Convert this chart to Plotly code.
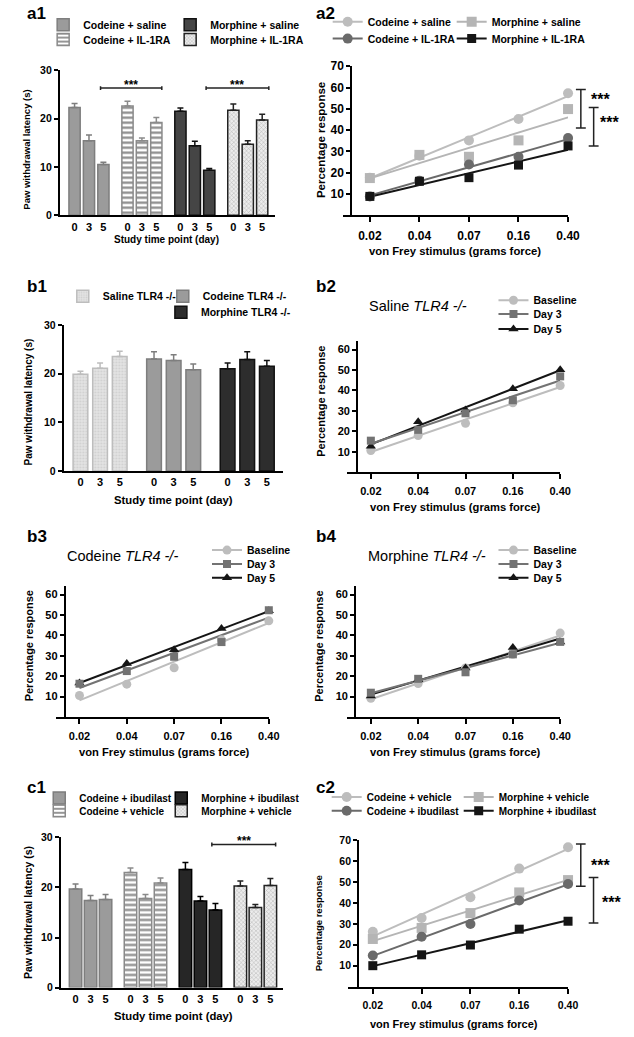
import numpy as np
import plotly.graph_objects as go

# %% values

days = ["0", "3", "5"]
vf_force = ["0.02", "0.04", "0.07", "0.16", "0.40"]

# a1 - paw withdrawal latency (s), mean and SEM at day 0 / 3 / 5
a1_cod_sal = [22.3, 15.4, 10.5]
a1_cod_sal_err = [0.8, 1.2, 0.5]
a1_cod_il = [22.6, 15.4, 19.2]
a1_cod_il_err = [1.0, 0.6, 1.0]
a1_mor_sal = [21.5, 14.4, 9.3]
a1_mor_sal_err = [0.7, 0.9, 0.4]
a1_mor_il = [21.7, 14.7, 19.7]
a1_mor_il_err = [1.3, 0.7, 1.2]

# a2 - percentage response per von Frey filament
a2_cod_sal = [17.7, 28.0, 35.2, 45.2, 57.3]
a2_mor_sal = [17.5, 28.4, 27.5, 35.2, 49.9]
a2_cod_il = [8.9, 16.3, 23.9, 27.5, 36.3]
a2_mor_il = [8.9, 16.0, 17.7, 23.6, 32.6]

# b1 - TLR4 -/- latency
b1_sal = [19.9, 21.1, 23.5]
b1_sal_err = [0.6, 1.1, 1.1]
b1_cod = [23.0, 22.7, 20.8]
b1_cod_err = [1.5, 1.2, 1.2]
b1_mor = [21.0, 22.9, 21.5]
b1_mor_err = [1.2, 1.6, 1.2]

# b2-b4 - baseline / day 3 / day 5
b2_base = [10.6, 17.9, 23.9, 34.0, 42.4]
b2_day3 = [15.4, 20.7, 28.8, 35.2, 46.9]
b2_day5 = [12.7, 24.7, 30.4, 40.8, 50.1]
b3_base = [10.5, 16.1, 24.1, 37.8, 47.1]
b3_day3 = [16.3, 22.5, 29.5, 36.7, 52.3]
b3_day5 = [16.6, 26.2, 33.0, 43.4, 52.0]
b4_base = [9.2, 16.4, 24.0, 30.7, 41.1]
b4_day3 = [11.9, 18.7, 21.9, 30.7, 36.8]
b4_day5 = [10.3, 18.3, 24.0, 34.1, 36.8]

# c1 - ibudilast latency
c1_cod_ibu = [19.7, 17.4, 17.6]
c1_cod_ibu_err = [1.0, 1.0, 1.0]
c1_cod_veh = [23.0, 17.8, 20.9]
c1_cod_veh_err = [0.9, 0.8, 1.0]
c1_mor_ibu = [23.6, 17.3, 15.5]
c1_mor_ibu_err = [1.4, 0.9, 1.3]
c1_mor_veh = [20.3, 16.0, 20.4]
c1_mor_veh_err = [1.0, 0.6, 1.4]

# c2 - percentage response
c2_cod_veh = [26.2, 32.8, 42.8, 56.5, 66.7]
c2_cod_ibu = [14.9, 23.9, 30.0, 41.2, 49.1]
c2_mor_veh = [22.8, 28.1, 35.2, 45.1, 51.0]
c2_mor_ibu = [10.0, 15.2, 19.9, 27.5, 31.3]

# significance markers
a1_sig = [(1.8, 6.05, 26.3), (9.12, 13.47, 26.3)]     # bar slots from/to, y
c1_sig = [(9.08, 13.33, 28.6)]
# x of bracket (axis domain), y from / to, x and y of the stars
a2_sig = [(1.057, 41.0, 59.1, 1.092, 55.3), (1.114, 32.6, 50.6, 1.135, 44.5)]
c2_sig = [(1.058, 48.0, 68.3, 1.094, 58.8), (1.116, 30.5, 52.2, 1.147, 41.0)]

# %% layout helpers

W, H = 634, 1037
FONT = "Liberation Sans, Arial, Helvetica, sans-serif"


def fx(p):
    return p / W


def fy(p):
    return 1 - p / H


def ax_ids(n):
    s = "" if n == 1 else str(n)
    return "xaxis" + s, "yaxis" + s, "x" + s, "y" + s


def tickfont(size):
    return dict(family=FONT, size=size, color="black", weight="bold")


fig = go.Figure()
layout = dict(width=W, height=H, margin=dict(l=0, r=0, t=0, b=0),
              paper_bgcolor="white", plot_bgcolor="white", showlegend=True,
              font=dict(family=FONT, color="black"), annotations=[], shapes=[])

line_ax = dict(showline=True, linewidth=2, linecolor="black", showgrid=False,
               zeroline=False, tickcolor="black", tickwidth=2)


def bar_panel(n, left, right, top, bottom, first, step, pitch, ngroups, fs=11):
    xk, yk, xr, yr = ax_ids(n)
    slots = [g * pitch + j for g in range(ngroups) for j in range(3)]
    layout[xk] = dict(domain=[fx(left), fx(right)],
                      range=[(left - first) / step, (right - first) / step],
                      anchor=yr, tickvals=slots, ticktext=days * ngroups, ticks="",
                      tickfont=tickfont(fs + 0.5), **line_ax)
    layout[yk] = dict(domain=[fy(bottom), fy(top)], range=[0, 30], anchor=xr,
                      tickvals=[0, 10, 20, 30], ticks="outside", ticklen=4,
                      tickfont=tickfont(fs), **line_ax)


def line_panel(n, yline, t0, t4, xstart, zero, k, ymax, fs=11):
    xk, yk, xr, yr = ax_ids(n)
    step = (t4 - t0) / 4
    layout[xk] = dict(domain=[fx(xstart), fx(t4)], range=[(xstart - t0) / step, 4],
                      anchor=yr, tickvals=list(range(5)), ticktext=vf_force,
                      ticks="outside", ticklen=5, ticklabelstandoff=3,
                      tickfont=tickfont(fs), **line_ax)
    layout[yk] = dict(domain=[fy(zero), fy(zero - ymax * k)], range=[0, ymax],
                      anchor="free", position=fx(yline),
                      tickvals=list(range(10, ymax + 1, 10)), ticks="outside", ticklen=4,
                      tickfont=tickfont(fs), **line_ax)


legend_no = [0]


def new_legend(left, row, size=10.5):
    legend_no[0] += 1
    key = "legend" if legend_no[0] == 1 else f"legend{legend_no[0]}"
    layout[key] = dict(x=fx(left), y=fy(row), xanchor="left", yanchor="middle",
                       orientation="h", bgcolor="rgba(0,0,0,0)", borderwidth=0,
                       font=dict(family=FONT, size=size, color="black", weight="bold"))
    return key


def text(x, y, s, size=11, bold=True, **kw):
    kw.setdefault("xanchor", "center")
    kw.setdefault("yanchor", "middle")
    layout["annotations"].append(dict(
        x=fx(x), y=fy(y), xref="paper", yref="paper", text=s, showarrow=False,
        font=dict(family=FONT, size=size, color="black", weight="bold" if bold else "normal"), **kw))


def bars(n, g, vals, err, name, leg, color, edge, pitch, width, pattern=None, lw=None):
    _, _, xr, yr = ax_ids(n)
    marker = dict(color=color, line=dict(color=edge, width=1.5))
    if pattern:
        marker["pattern"] = pattern
    fig.add_trace(go.Bar(
        x=[g * pitch + j for j in range(len(vals))], y=vals, width=width, name=name,
        marker=marker, legend=leg, legendwidth=lw, xaxis=xr, yaxis=yr,
        error_y=dict(type="data", array=err, arrayminus=[0] * len(err), symmetric=False,
                     color=edge, thickness=1.5, width=3)))


def fit(vals):
    idx = np.arange(len(vals))
    slope, icpt = np.polyfit(idx, vals, 1)
    return [0, len(vals) - 1], [icpt, icpt + slope * (len(vals) - 1)]


def series(n, groups):
    # groups: (values, name, legend, colour, symbol, size, legend entry width)
    _, _, xr, yr = ax_ids(n)
    for vals, name, leg, col, sym, sz, lw in groups:
        lx, ly = fit(vals)
        fig.add_trace(go.Scatter(x=lx, y=ly, mode="lines", line=dict(color=col, width=2),
                                 showlegend=False, xaxis=xr, yaxis=yr))
    for vals, name, leg, col, sym, sz, lw in groups:
        fig.add_trace(go.Scatter(x=list(range(len(vals))), y=vals, mode="markers",
                                 marker=dict(color=col, symbol=sym, size=sz), cliponaxis=False,
                                 showlegend=False, xaxis=xr, yaxis=yr))
    for vals, name, leg, col, sym, sz, lw in groups:
        fig.add_trace(go.Scatter(x=[None], y=[None], mode="lines+markers", name=name, legend=leg,
                                 legendwidth=lw, line=dict(color=col, width=2),
                                 marker=dict(color=col, symbol=sym, size=sz), xaxis=xr, yaxis=yr))


def hbracket(n, x0, x1, y, cap, size=12):
    _, _, xr, yr = ax_ids(n)
    ln = dict(color="#222", width=1.5)
    layout["shapes"].append(dict(type="line", xref=xr, yref=yr, x0=x0, x1=x1, y0=y, y1=y, line=ln))
    for xe in (x0, x1):
        layout["shapes"].append(dict(type="line", xref=xr, yref=yr, x0=xe, x1=xe, y0=y - cap, y1=y + cap, line=ln))
    layout["annotations"].append(dict(x=(x0 + x1) / 2, y=y, xref=xr, yref=yr, text="***", showarrow=False,
                                      xanchor="center", yanchor="middle", yshift=3,
                                      font=dict(family=FONT, size=size, color="black", weight="bold")))


def vbracket(n, x, y0, y1, xstar, ystar, size=16):
    _, _, xr, yr = ax_ids(n)
    ln = dict(color="#222", width=1.5)
    xd = xr + " domain"
    layout["shapes"].append(dict(type="line", xref=xd, yref=yr, x0=x, x1=x, y0=y0, y1=y1, line=ln))
    for ye in (y0, y1):
        layout["shapes"].append(dict(type="line", xref=xd, yref=yr, x0=x - 0.022, x1=x + 0.022, y0=ye, y1=ye, line=ln))
    layout["annotations"].append(dict(x=xstar, y=ystar, xref=xd, yref=yr, text="***", showarrow=False,
                                      xanchor="left", yanchor="middle", yshift=-2,
                                      font=dict(family=FONT, size=size, color="black", weight="bold")))


# fills
MID, MID_EDGE = "#9b9b9b", "#7e7e7e"
DARK, DARK_EDGE = "#454545", "#111111"
BLACK = "#262626"
stripes = dict(shape="-", fgcolor="#8a8a8a", bgcolor="white", size=5, solidity=0.45, fillmode="replace")
hatch = dict(shape="x", fgcolor="#a5a5a5", bgcolor="#ececec", size=3, solidity=0.25, fillmode="replace")
dots = dict(shape=".", fgcolor="#cfcfcf", bgcolor="#e4e4e4", size=3, solidity=0.3, fillmode="replace")
LIGHT_C, LIGHT_S, GREY, BLK = "#bdbdbd", "#b5b5b5", "#6a6a6a", "#151515"

# %% a1
bar_panel(1, 61, 280, 64, 211, 76, 14.7, 3.67, 4, fs=10.5)
la, lb = new_legend(44, 18), new_legend(44, 33)
bars(1, 0, a1_cod_sal, a1_cod_sal_err, "Codeine + saline", la, MID, MID_EDGE, 3.67, 0.78, lw=82)
bars(1, 1, a1_cod_il, a1_cod_il_err, "Codeine + IL-1RA", lb, "white", "#8a8a8a", 3.67, 0.78, stripes, lw=82)
bars(1, 2, a1_mor_sal, a1_mor_sal_err, "Morphine + saline", la, DARK, DARK_EDGE, 3.67, 0.78)
bars(1, 3, a1_mor_il, a1_mor_il_err, "Morphine + IL-1RA", lb, "#ececec", "#222", 3.67, 0.78, hatch)
for x0, x1, y in a1_sig:
    hbracket(1, x0, x1, y, 0.4)
text(25, 7, "a1", size=17, xanchor="left")
text(27, 144, "Paw withdrawal latency (s)", size=9.5, textangle=-90)
text(170, 235, "Study time point (day)", size=10)

# %% a2
line_panel(2, 358, 377, 579, 350, 211, 2.157, 70, fs=12)
la, lb = new_legend(334, 15), new_legend(334, 32)
series(2, [(a2_cod_sal, "Codeine + saline", la, LIGHT_C, "circle", 10, 79),
           (a2_mor_sal, "Morphine + saline", la, LIGHT_S, "square", 10, None),
           (a2_cod_il, "Codeine + IL-1RA", lb, GREY, "circle", 10, 79),
           (a2_mor_il, "Morphine + IL-1RA", lb, BLK, "square", 9, None)])
for x, y0, y1, xs, ys in a2_sig:
    vbracket(2, x, y0, y1, xs, ys)
text(320, 7, "a2", size=17, xanchor="left")
text(327, 135, "Percentage response", size=11.5, textangle=-90)
text(464, 247, "von Frey stimulus (grams force)", size=11.3)

# %% b1
bar_panel(3, 65, 288, 322, 470, 82, 20, 3.75, 3, fs=10.5)
la, lb = new_legend(64, 293), new_legend(164, 309)
bars(3, 0, b1_sal, b1_sal_err, "Saline TLR4 -/-", la, "#e4e4e4", "#bdbdbd", 3.75, 0.75, dots, lw=55)
bars(3, 1, b1_cod, b1_cod_err, "Codeine TLR4 -/-", la, MID, MID_EDGE, 3.75, 0.75)
bars(3, 2, b1_mor, b1_mor_err, "Morphine TLR4 -/-", lb, "#2d2d2d", DARK_EDGE, 3.75, 0.75)
text(25, 283, "b1", size=17, xanchor="left")
text(30, 400, "Paw withdrawal latency (s)", size=10, textangle=-90)
text(177, 499, "Study time point (day)", size=11.3)

# %% b2 - b4
for n, yline, t0, t4, xstart, zero, left, rows, base, d3, d5, title, tx, lab, labx in [
        (4, 364, 378, 571, 354, 471, 503, (297, 311, 326), b2_base, b2_day3, b2_day5, "Saline", 426, "b2", 320),
        (5, 66, 81, 274, 57, 719, 211, (550, 564, 578), b3_base, b3_day3, b3_day5, "Codeine", 125, "b3", 25),
        (6, 362, 378, 571, 354, 719, 503, (550, 564, 578), b4_base, b4_day3, b4_day5, "Morphine", 435, "b4", 320)]:
    line_panel(n, yline, t0, t4, xstart, zero, 2.067, 64)
    l1, l2, l3 = [new_legend(left, r) for r in rows]
    series(n, [(base, "Baseline", l1, LIGHT_C, "circle", 9, None),
               (d5, "Day 5", l3, BLK, "triangle-up", 9, None),
               (d3, "Day 3", l2, "#737373", "square", 8, None)])
    text(labx, rows[0] - 14, lab, size=17, xanchor="left")
    text(tx, rows[0] + 6, title + " <i>TLR4 -/-</i>", size=14.5, bold=False)
    text(yline - 37, zero - 72, "Percentage response", size=11, textangle=-90)
    text((xstart + t4) / 2 + 2, zero + 35, "von Frey stimulus (grams force)", size=11.2)

# %% c1
bar_panel(7, 62, 288, 841, 993, 77, 15.3, 3.66, 4, fs=10.5)
la, lb = new_legend(40, 801, 10), new_legend(40, 814, 10)
bars(7, 0, c1_cod_ibu, c1_cod_ibu_err, "Codeine + ibudilast", la, MID, MID_EDGE, 3.66, 0.83, lw=77)
bars(7, 1, c1_cod_veh, c1_cod_veh_err, "Codeine + vehicle", lb, "white", "#8a8a8a", 3.66, 0.83, stripes, lw=77)
bars(7, 2, c1_mor_ibu, c1_mor_ibu_err, "Morphine + ibudilast", la, BLACK, "#000", 3.66, 0.83)
bars(7, 3, c1_mor_veh, c1_mor_veh_err, "Morphine + vehicle", lb, "#ececec", "#222", 3.66, 0.83, hatch)
for x0, x1, y in c1_sig:
    hbracket(7, x0, x1, y, 0.4)
text(25, 790, "c1", size=17, xanchor="left")
text(28, 917, "Paw withdrawal latency (s)", size=10.5, textangle=-90)
text(177, 1022, "Study time point (day)", size=11.3)

# %% c2
line_panel(8, 365, 380, 579, 355, 992, 2.114, 70, fs=10.5)
la, lb = new_legend(333, 800, 10), new_legend(333, 814, 10)
series(8, [(c2_cod_veh, "Codeine + vehicle", la, LIGHT_C, "circle", 10, 87),
           (c2_mor_veh, "Morphine + vehicle", la, LIGHT_S, "square", 10, None),
           (c2_cod_ibu, "Codeine + ibudilast", lb, GREY, "circle", 10, 87),
           (c2_mor_ibu, "Morphine + ibudilast", lb, BLK, "square", 9, None)])
for x, y0, y1, xs, ys in c2_sig:
    vbracket(8, x, y0, y1, xs, ys)
text(320, 790, "c2", size=17, xanchor="left")
text(325, 928, "Percentage response", size=9.5, textangle=-90)
text(463, 1030, "von Frey stimulus (grams force)", size=11)

fig.update_layout(**layout)
fig.write_html("out.html", config={"displayModeBar": False},
               post_script="document.body.style.margin='0';")
